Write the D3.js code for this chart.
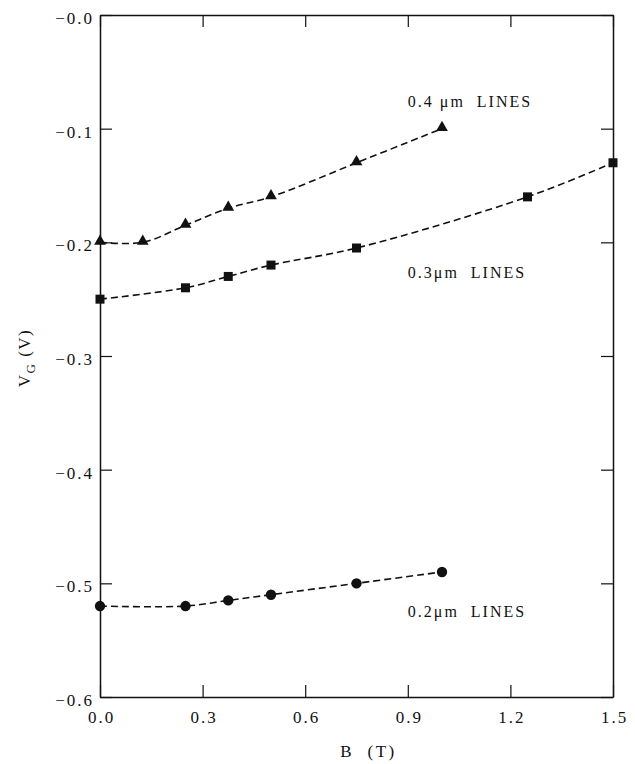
<!DOCTYPE html>
<html>
<head>
<meta charset="utf-8">
<script src="https://cdn.jsdelivr.net/npm/d3@7"></script>
<style>
  body { margin: 0; background: #fff; }
  text { font-family: "Liberation Serif", "DejaVu Serif", serif; fill: #111; }
</style>
</head>
<body>
<div id="chart"></div>
<script>
// chart size
const width = 635;
const height = 764;
const margin = { top: 15, right: 22, bottom: 67, left: 100 };

// data
const bTri = [0, 0.125, 0.25, 0.375, 0.5, 0.75, 1.0];
const vTri = [-0.2, -0.2, -0.185, -0.17, -0.16, -0.13, -0.1];
const bSq = [0, 0.25, 0.375, 0.5, 0.75, 1.25, 1.5];
const vSq = [-0.25, -0.24, -0.23, -0.22, -0.205, -0.16, -0.13];
const bCirc = [0, 0.25, 0.375, 0.5, 0.75, 1.0];
const vCirc = [-0.52, -0.52, -0.515, -0.51, -0.5, -0.49];
const xTicks = [0, 0.3, 0.6, 0.9, 1.2, 1.5];
const yTicks = [0, -0.1, -0.2, -0.3, -0.4, -0.5, -0.6];
const seriesLabels = ["0.4 \u03bcm  LINES", "0.3\u03bcm  LINES", "0.2\u03bcm  LINES"];

const svg = d3.select("#chart")
    .append("svg")
    .attr("width", width)
    .attr("height", height);

const x = d3.scaleLinear().domain([0, 1.5]).range([margin.left, width - margin.right]);
const y = d3.scaleLinear().domain([-0.6, 0]).range([height - margin.bottom, margin.top]);

const fmtY = d => "\u2212" + Math.abs(d).toFixed(1);
const fmtX = d => d.toFixed(1);

// axes, ticks pointing inward on all four sides
const tickLen = 12;
const axisB = svg.append("g")
    .attr("transform", `translate(0,${y(-0.6)})`)
    .call(d3.axisBottom(x).tickValues(xTicks).tickSizeInner(-tickLen).tickSizeOuter(0).tickPadding(14).tickFormat(fmtX));
const axisT = svg.append("g")
    .attr("transform", `translate(0,${y(0)})`)
    .call(d3.axisTop(x).tickValues(xTicks).tickSizeInner(-tickLen).tickSizeOuter(0).tickFormat(""));
const axisL = svg.append("g")
    .attr("transform", `translate(${x(0)},0)`)
    .call(d3.axisLeft(y).tickValues(yTicks).tickSizeInner(-tickLen).tickSizeOuter(0).tickPadding(6).tickFormat(fmtY));
const axisR = svg.append("g")
    .attr("transform", `translate(${x(1.5)},0)`)
    .call(d3.axisRight(y).tickValues(yTicks).tickSizeInner(-tickLen).tickSizeOuter(0).tickFormat(""));

[axisB, axisT, axisL, axisR].forEach(g => {
    g.select(".domain").attr("stroke", "#111").attr("stroke-width", 1.5);
    g.selectAll(".tick line").attr("stroke", "#111").attr("stroke-width", 1.2);
    g.selectAll(".tick text")
        .style("font-family", "Liberation Serif")
        .style("font-size", "17px")
        .style("letter-spacing", "2px")
        .attr("fill", "#111");
});
axisB.selectAll(".tick text").attr("dx", "1px");
axisL.selectAll(".tick text").attr("dy", "0.5em");

// axis titles
svg.append("text")
    .attr("x", x(0.75) + 12)
    .attr("y", 757)
    .attr("text-anchor", "middle")
    .style("font-size", "17px")
    .style("letter-spacing", "2.5px")
    .style("white-space", "pre")
    .text("B  (T)");

const yTitle = svg.append("text")
    .attr("transform", `translate(30,${y(-0.3) + 2}) rotate(-90)`)
    .attr("text-anchor", "middle")
    .style("font-size", "17px")
    .style("letter-spacing", "1.5px");
yTitle.append("tspan").text("V");
yTitle.append("tspan").attr("dy", 5).style("font-size", "13px").text("G");
yTitle.append("tspan").attr("dy", -5).style("white-space", "pre").text(" (V)");

// dashed smooth lines
const line = d3.line()
    .x(d => x(d[0]))
    .y(d => y(d[1]))
    .curve(d3.curveCatmullRom.alpha(0.5));

const triData = bTri.map((b, i) => [b, vTri[i]]);
const sqData = bSq.map((b, i) => [b, vSq[i]]);
const circData = bCirc.map((b, i) => [b, vCirc[i]]);

[triData, sqData, circData].forEach(data => {
    svg.append("path")
        .datum(data)
        .attr("d", line)
        .attr("fill", "none")
        .attr("stroke", "#111")
        .attr("stroke-width", 1.6)
        .attr("stroke-dasharray", "7,4");
});

// markers
svg.selectAll(".tri")
    .data(triData)
    .enter().append("path")
    .attr("d", d3.symbol().type(d3.symbolTriangle).size(60))
    .attr("transform", d => `translate(${x(d[0])},${y(d[1]) - 1})`)
    .attr("fill", "#111");

svg.selectAll(".sq")
    .data(sqData)
    .enter().append("rect")
    .attr("x", d => x(d[0]) - 4.5)
    .attr("y", d => y(d[1]) - 4.5)
    .attr("width", 9)
    .attr("height", 9)
    .attr("fill", "#111");

svg.selectAll(".circ")
    .data(circData)
    .enter().append("circle")
    .attr("cx", d => x(d[0]))
    .attr("cy", d => y(d[1]))
    .attr("r", 5.2)
    .attr("fill", "#111");

// series labels
const labelPos = [[0.9, -0.0807], [0.9, -0.231], [0.9, -0.5292]];
seriesLabels.forEach((t, i) => {
    svg.append("text")
        .attr("x", x(labelPos[i][0]))
        .attr("y", y(labelPos[i][1]))
        .style("font-size", "16px")
        .style("letter-spacing", "2px")
        .style("white-space", "pre")
        .text(t);
});
</script>
</body>
</html>
